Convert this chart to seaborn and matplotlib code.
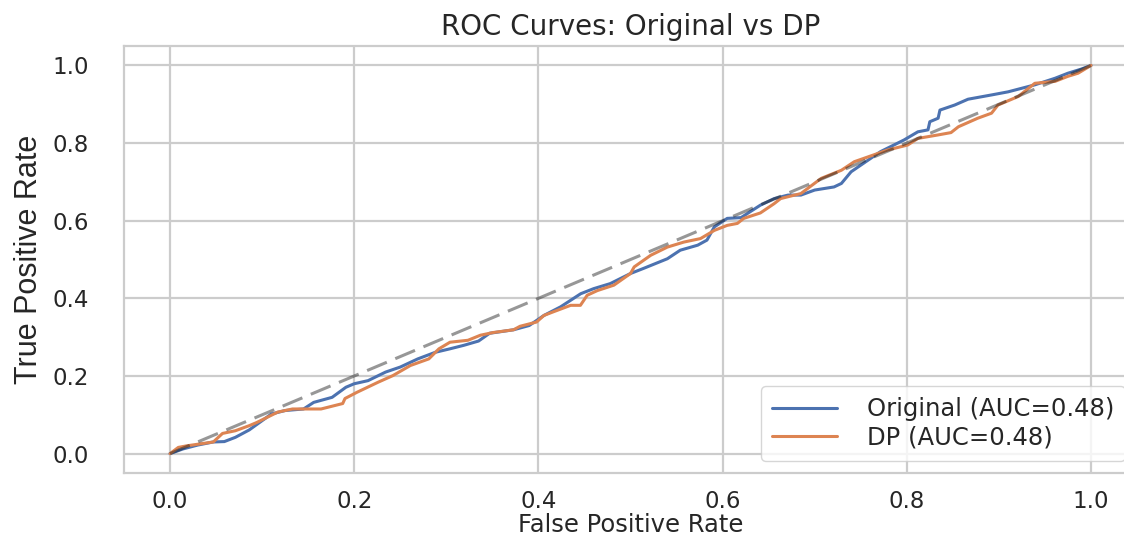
import pandas as pd
import matplotlib
matplotlib.use("Agg")
import matplotlib.pyplot as plt
import seaborn as sns

# ROC-точки, отчетени от графиката
orig_fpr = [0, 0.014, 0.03, 0.047, 0.059, 0.071, 0.086, 0.11, 0.125, 0.145,
            0.156, 0.176, 0.191, 0.2, 0.215, 0.234, 0.25, 0.269, 0.288, 0.304,
            0.319, 0.335, 0.347, 0.373, 0.39, 0.406, 0.424, 0.446, 0.46, 0.478,
            0.489, 0.5, 0.514, 0.54, 0.554, 0.573, 0.583, 0.591, 0.605, 0.62,
            0.641, 0.656, 0.671, 0.685, 0.7, 0.721, 0.729, 0.7395, 0.7715, 0.797,
            0.812, 0.823, 0.825, 0.834, 0.836, 0.852, 0.8665, 0.892, 0.91, 0.9245,
            0.939, 0.961, 0.975, 0.99, 1.0]
orig_tpr = [0, 0.012, 0.022, 0.03, 0.031, 0.042, 0.061, 0.102, 0.111, 0.115,
            0.132, 0.145, 0.171, 0.18, 0.188, 0.21, 0.223, 0.244, 0.261, 0.27,
            0.279, 0.29, 0.31, 0.319, 0.33, 0.356, 0.378, 0.412, 0.425, 0.438,
            0.451, 0.464, 0.477, 0.502, 0.524, 0.537, 0.55, 0.584, 0.606, 0.608,
            0.64, 0.657, 0.666, 0.666, 0.679, 0.687, 0.696, 0.726, 0.778, 0.808,
            0.829, 0.834, 0.855, 0.864, 0.885, 0.898, 0.913, 0.924, 0.932, 0.941,
            0.95, 0.967, 0.98, 0.991, 1.0]

dp_fpr = [0, 0.009, 0.018, 0.047, 0.057, 0.071, 0.086, 0.094, 0.117, 0.133,
          0.164, 0.1875, 0.19, 0.203, 0.226, 0.242, 0.261, 0.281, 0.292, 0.304,
          0.3235, 0.337, 0.351, 0.373, 0.38, 0.398, 0.406, 0.417, 0.435, 0.4456,
          0.453, 0.464, 0.482, 0.5, 0.504, 0.522, 0.54, 0.558, 0.576, 0.591,
          0.605, 0.616, 0.623, 0.641, 0.656, 0.663, 0.685, 0.707, 0.729, 0.743,
          0.779, 0.801, 0.812, 0.834, 0.848, 0.856, 0.877, 0.892, 0.899, 0.921,
          0.939, 0.961, 0.975, 0.986, 1.0]
dp_tpr = [0, 0.016, 0.02, 0.03, 0.052, 0.059, 0.072, 0.08, 0.107, 0.115,
          0.115, 0.129, 0.142, 0.158, 0.184, 0.201, 0.227, 0.244, 0.27, 0.287,
          0.292, 0.305, 0.312, 0.319, 0.328, 0.339, 0.356, 0.366, 0.382, 0.382,
          0.408, 0.42, 0.434, 0.464, 0.481, 0.511, 0.532, 0.545, 0.554, 0.575,
          0.588, 0.593, 0.606, 0.62, 0.644, 0.657, 0.67, 0.709, 0.73, 0.752,
          0.782, 0.795, 0.812, 0.821, 0.827, 0.842, 0.864, 0.877, 0.898, 0.92,
          0.954, 0.959, 0.972, 0.98, 1.0]

models = ["Original", "DP"]
auc_values = [0.48, 0.48]
chance = [0.0, 1.0]
ticks = [0.0, 0.2, 0.4, 0.6, 0.8, 1.0]

labels = [f"{m} (AUC={a:.2f})" for m, a in zip(models, auc_values)]
df = pd.concat([
    pd.DataFrame({"fpr": orig_fpr, "tpr": orig_tpr, "model": labels[0]}),
    pd.DataFrame({"fpr": dp_fpr, "tpr": dp_tpr, "model": labels[1]}),
])

sns.set_theme(style="whitegrid")
plt.rcParams["font.family"] = ["DejaVu Sans"]
plt.rcParams["axes.edgecolor"] = "#cccccc"
plt.rcParams["grid.color"] = "#cccccc"

fig = plt.figure(figsize=(11.24, 5.39), dpi=100)
ax = fig.add_axes([0.1103, 0.1224, 0.9013, 0.7922])

sns.lineplot(data=df, x="fpr", y="tpr", hue="model", palette="deep",
             estimator=None, sort=False, linewidth=2.2, ax=ax)
ax.plot(chance, chance, color="k", alpha=0.45, linestyle="--",
        linewidth=2.2, dashes=(7, 3))

ax.set_xlim(-0.05, 1.05)
ax.set_ylim(-0.05, 1.05)
ax.set_xticks(ticks)
ax.set_yticks(ticks)
ax.grid(True, linewidth=1.6)
for s in ax.spines.values():
    s.set_linewidth(1.6)
ax.tick_params(axis="x", labelsize=16.5, pad=6, colors="#262626")
ax.tick_params(axis="y", labelsize=16.5, pad=19, colors="#262626")

ax.set_title("ROC Curves: Original vs DP", fontsize=20, pad=8, color="#262626")
ax.set_xlabel("False Positive Rate", fontsize=17.5, color="#262626", labelpad=0)
ax.set_ylabel("True Positive Rate", fontsize=22, color="#262626", labelpad=6,
              family=["Liberation Sans Narrow", "Liberation Sans", "DejaVu Sans"])

ax.legend(loc="lower right", fontsize=17.5, handlelength=2.7, handletextpad=1.2,
          labelspacing=0.2, borderpad=0.45, borderaxespad=0.5,
          frameon=True, edgecolor="#cccccc")

fig.savefig("out.png", dpi=100)
